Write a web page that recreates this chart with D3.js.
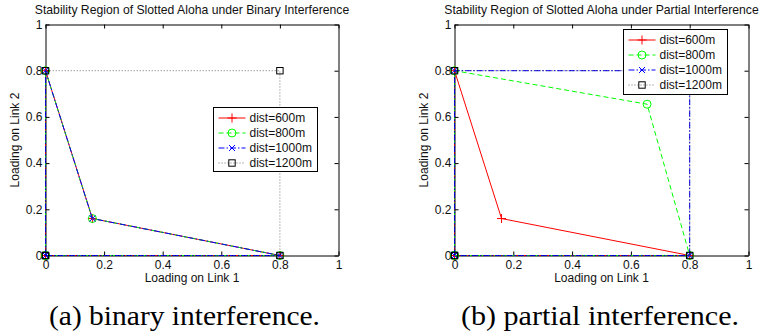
<!DOCTYPE html>
<html>
<head>
<meta charset="utf-8">
<script src="https://cdn.jsdelivr.net/npm/d3@7"></script>
<style>
  html, body { margin: 0; padding: 0; background: #fff; }
  svg { display: block; }
</style>
</head>
<body>
<svg id="fig" width="762" height="335"></svg>
<script>
// Tick positions and labels shared by both panels
const tickValues = [0, 0.2, 0.4, 0.6, 0.8, 1];
const tickLabels = ["0", "0.2", "0.4", "0.6", "0.8", "1"];

// Legend entries
const seriesNames = ["dist=600m", "dist=800m", "dist=1000m", "dist=1200m"];

// Boundary of the stability region, as (load on link 1, load on link 2) vertices
// Binary interference
const binary600  = [[0, 0], [0, 0.8], [0.16, 0.16], [0.8, 0], [0, 0]];
const binary800  = [[0, 0], [0, 0.8], [0.16, 0.16], [0.8, 0], [0, 0]];
const binary1000 = [[0, 0], [0, 0.8], [0.16, 0.16], [0.8, 0], [0, 0]];
const binary1200 = [[0, 0], [0, 0.8], [0.8, 0.8], [0.8, 0], [0, 0]];
// Partial interference
const partial600  = [[0, 0], [0, 0.8], [0.16, 0.16], [0.8, 0], [0, 0]];
const partial800  = [[0, 0], [0, 0.8], [0.655, 0.655], [0.8, 0], [0, 0]];
const partial1000 = [[0, 0], [0, 0.8], [0.8, 0.8], [0.8, 0], [0, 0]];
const partial1200 = [[0, 0], [0, 0.8], [0.8, 0.8], [0.8, 0], [0, 0]];

const panelTitles = [
  "Stability Region of Slotted Aloha under Binary Interference",
  "Stability Region of Slotted Aloha under Partial Interference"
];
const captions = ["(a) binary interference.", "(b) partial interference."];
const xLabel = "Loading on Link 1";
const yLabel = "Loading on Link 2";

// Line styles per series (MATLAB-like: r-+, g--o, b-.x, k:s)
const styles = [
  { color: "#ff0000", dash: null,        marker: "plus" },
  { color: "#00ff00", dash: "5,3",       marker: "circle" },
  { color: "#0000ff", dash: "6,2,1.5,2", marker: "cross" },
  { color: "#000000", dash: "1,2",       marker: "square" }
];

const svg = d3.select("#fig");
const sans = "'Liberation Sans', Arial, Helvetica, sans-serif";
const serif = "'Liberation Serif', 'Times New Roman', serif";

function drawMarker(g, kind, cx, cy, color) {
  if (kind === "plus") {
    const h = 4.5;
    g.append("path").attr("d", `M${cx - h},${cy}H${cx + h}M${cx},${cy - h}V${cy + h}`)
      .attr("stroke", color).attr("stroke-width", 1).attr("fill", "none");
  } else if (kind === "circle") {
    g.append("circle").attr("cx", cx).attr("cy", cy).attr("r", 4)
      .attr("stroke", color).attr("stroke-width", 1).attr("fill", "none");
  } else if (kind === "cross") {
    const h = 3;
    g.append("path").attr("d", `M${cx - h},${cy - h}L${cx + h},${cy + h}M${cx - h},${cy + h}L${cx + h},${cy - h}`)
      .attr("stroke", color).attr("stroke-width", 1).attr("fill", "none");
  } else if (kind === "square") {
    const h = 3.2;
    g.append("rect").attr("x", cx - h).attr("y", cy - h).attr("width", 2 * h).attr("height", 2 * h)
      .attr("stroke", color).attr("stroke-width", 1).attr("fill", "none");
  }
}

function drawPanel(opts) {
  const { left, right, top, bottom, series, title, caption, legend } = opts;
  const x = d3.scaleLinear().domain([0, 1]).range([left, right]);
  const y = d3.scaleLinear().domain([0, 1]).range([bottom, top]);
  const g = svg.append("g");

  const fmt = d => tickLabels[tickValues.indexOf(d)];

  // Box with inward ticks on all four sides
  const axB = g.append("g").attr("transform", `translate(0,${bottom})`)
    .call(d3.axisBottom(x).tickValues(tickValues).tickFormat(fmt).tickSizeInner(-4).tickSizeOuter(0).tickPadding(4.5));
  const axL = g.append("g").attr("transform", `translate(${left},0)`)
    .call(d3.axisLeft(y).tickValues(tickValues).tickFormat(fmt).tickSizeInner(-4).tickSizeOuter(0).tickPadding(3));
  const axT = g.append("g").attr("transform", `translate(0,${top})`)
    .call(d3.axisTop(x).tickValues(tickValues).tickFormat("").tickSizeInner(-4).tickSizeOuter(0));
  const axR = g.append("g").attr("transform", `translate(${right},0)`)
    .call(d3.axisRight(y).tickValues(tickValues).tickFormat("").tickSizeInner(-4).tickSizeOuter(0));
  [axB, axL, axT, axR].forEach(a => {
    a.selectAll("path.domain").attr("stroke", "#000").attr("stroke-width", 1);
    a.selectAll(".tick line").attr("stroke", "#000");
    a.selectAll("text").attr("font-family", sans).attr("font-size", 12).attr("fill", "#111");
  });

  // Series lines and markers
  const line = d3.line().x(d => x(d[0])).y(d => y(d[1]));
  series.forEach((pts, i) => {
    const st = styles[i];
    const sg = g.append("g");
    sg.append("path").attr("d", line(pts)).attr("fill", "none")
      .attr("stroke", st.color).attr("stroke-width", 1)
      .attr("stroke-dasharray", st.dash)
      .attr("opacity", i === 3 ? 0.55 : 1);
    pts.forEach(p => drawMarker(sg, st.marker, x(p[0]), y(p[1]), st.color));
  });

  // Title and axis labels
  g.append("text").attr("x", (left + right) / 2).attr("y", 14)
    .attr("text-anchor", "middle").attr("font-family", sans).attr("font-size", 12.2)
    .attr("fill", "#111").text(title);
  g.append("text").attr("x", (left + right) / 2).attr("y", 282)
    .attr("text-anchor", "middle").attr("font-family", sans).attr("font-size", 12)
    .attr("fill", "#111").text(xLabel);
  g.append("text").attr("transform", `translate(${left - 27},${(top + bottom) / 2}) rotate(-90)`)
    .attr("text-anchor", "middle").attr("font-family", sans).attr("font-size", 12)
    .attr("fill", "#111").text(yLabel);

  // Legend
  const lg = g.append("g");
  lg.append("rect").attr("x", legend.x).attr("y", legend.y).attr("width", 104).attr("height", legend.h)
    .attr("fill", "#fff").attr("stroke", "#000").attr("stroke-width", 1);
  seriesNames.forEach((name, i) => {
    const st = styles[i];
    const cy = legend.y + 10.5 + i * 15;
    const x0 = legend.x + 5, x1 = legend.x + 32;
    lg.append("line").attr("x1", x0).attr("x2", x1).attr("y1", cy).attr("y2", cy)
      .attr("stroke", st.color).attr("stroke-width", 1).attr("stroke-dasharray", st.dash)
      .attr("opacity", i === 3 ? 0.55 : 1);
    drawMarker(lg, st.marker, (x0 + x1) / 2, cy, st.color);
    lg.append("text").attr("x", legend.x + 36).attr("y", cy).attr("dy", "0.36em")
      .attr("font-family", sans).attr("font-size", 12).attr("fill", "#111").text(name);
  });

  // Caption under the panel
  svg.append("text").attr("x", caption.x).attr("y", 325)
    .attr("font-family", serif).attr("font-size", 27)
    .attr("textLength", caption.w).attr("lengthAdjust", "spacingAndGlyphs")
    .attr("fill", "#000").text(caption.text);
}

drawPanel({
  left: 45.5, right: 338.5, top: 24.5, bottom: 255.5,
  series: [binary600, binary800, binary1000, binary1200],
  title: panelTitles[0],
  caption: { x: 49, w: 271, text: captions[0] },
  legend: { x: 213.5, y: 107.5, h: 64 }
});
drawPanel({
  left: 454.5, right: 748.5, top: 24.5, bottom: 255.5,
  series: [partial600, partial800, partial1000, partial1200],
  title: panelTitles[1],
  caption: { x: 461, w: 278, text: captions[1] },
  legend: { x: 623.5, y: 29.5, h: 65 }
});
</script>
</body>
</html>
